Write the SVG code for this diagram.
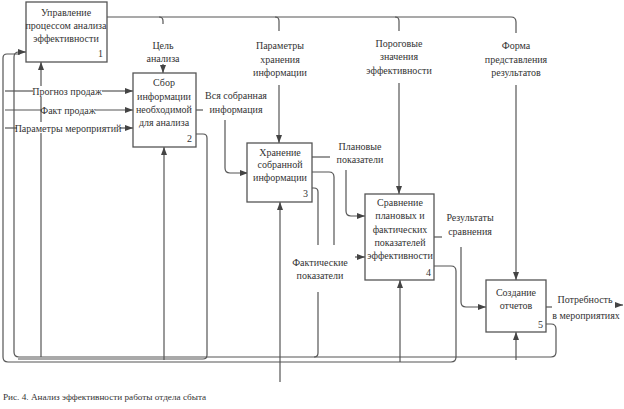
<svg xmlns="http://www.w3.org/2000/svg" width="624" height="409" viewBox="0 0 624 409">
<style>
text{font-family:"Liberation Serif","Times New Roman",serif;font-size:10px;fill:#333;text-anchor:middle}
.num{text-anchor:start}
.cap{text-anchor:start;font-size:9.2px}
.box{fill:#fff;stroke:#555;stroke-width:1.3}
.c{fill:none;stroke:#555;stroke-width:1.2}
.a{marker-end:url(#ah)}
</style>
<defs>
<marker id="ah" viewBox="0 0 8 8" refX="8" refY="4" markerWidth="8" markerHeight="8" markerUnits="userSpaceOnUse" orient="auto">
<path d="M0,1 L8,4 L0,7 Z" fill="#444"/>
</marker>
</defs>
<g id="connectors">
<path class="c" d="M107,17 H511 Q516,17 516,22 V33"/>
<path class="c" d="M159,17 Q163,17 163,21 V24"/>
<path class="c" d="M275,17 Q279,17 279,21 V31"/>
<path class="c" d="M395,17 Q399,17 399,21 V31"/>
<path class="c a" d="M163,64 V73"/>
<path class="c a" d="M279,85 V143"/>
<path class="c a" d="M399,83 V194"/>
<path class="c a" d="M516,85 V280"/>
<path class="c" d="M5,91 H33"/>
<path class="c a" d="M102,91 H133"/>
<path class="c" d="M5,110 H42"/>
<path class="c a" d="M95,110 H133"/>
<path class="c" d="M5,128 H17"/>
<path class="c a" d="M120,128 H133"/>
<path class="c" d="M196,110 H203"/>
<path class="c a" d="M225,120 V168 Q225,173 230,173 H248"/>
<path class="c" d="M312,157 H330"/>
<path class="c a" d="M346,170 V211 Q346,216 351,216 H365"/>
<path class="c" d="M312,172 H329 Q334,172 334,177 V245"/>
<path class="c" d="M312,188 H314 Q318,188 318,192 V245"/>
<path class="c a" d="M355,257 H365"/>
<path class="c" d="M318,292 V353 Q318,357 314,357"/>
<path class="c" d="M434,237 H442"/>
<path class="c a" d="M461,247 V302 Q461,307 466,307 H486"/>
<path class="c" d="M546,307 H552"/>
<path class="c a" d="M615,305 H623"/>
<path class="c" d="M546,324 H551 Q556,324 556,329 V352 Q556,357 551,357 H19 Q14,357 14,352 V57 Q14,52 19,52 H20"/>
<path class="c" d="M434,266 H451 Q456,266 456,271 V357 Q456,362 451,362 H8 Q3,362 3,357 V58 Q3,54 7,54 H20"/>
<path class="c a" d="M18,52 H26"/>
<path class="c" d="M196,134 H203 Q207,134 207,138 V355 Q207,359 203,359 H18"/>
<path class="c a" d="M41,86 V62"/>
<path class="c" d="M41,97 V122"/>
<path class="c" d="M41,133 V357"/>
<path class="c a" d="M164,360 V147"/>
<path class="c a" d="M280,382 V202"/>
<path class="c a" d="M400,362 V280"/>
<path class="c a" d="M516,360 V332"/>
</g>
<g id="node1">
<rect class="box" x="26" y="2" width="81" height="60"/>
<text x="66" y="15.5">Управление</text>
<text x="66" y="28.5">процессом анализа</text>
<text x="66" y="41.5">эффективности</text>
<text class="num" x="98" y="57">1</text>
</g>
<g id="node2">
<rect class="box" x="133" y="73" width="63" height="74"/>
<text x="164" y="86">Сбор</text>
<text x="164" y="99.5">информации</text>
<text x="164" y="112.5">необходимой</text>
<text x="164" y="125.5">для анализа</text>
<text class="num" x="187" y="142">2</text>
</g>
<g id="node3">
<rect class="box" x="247" y="143" width="65" height="59"/>
<text x="280" y="155.5">Хранение</text>
<text x="280" y="168">собранной</text>
<text x="280" y="180.5">информации</text>
<text class="num" x="303" y="197">3</text>
</g>
<g id="node4">
<rect class="box" x="365" y="194" width="69" height="86"/>
<text x="400" y="205.5">Сравнение</text>
<text x="400" y="219">плановых и</text>
<text x="400" y="232.5">фактических</text>
<text x="400" y="245.5">показателей</text>
<text x="400" y="259">эффективности</text>
<text class="num" x="426" y="276">4</text>
</g>
<g id="node5">
<rect class="box" x="486" y="280" width="60" height="52"/>
<text x="516" y="295.5">Создание</text>
<text x="516" y="308.5">отчетов</text>
<text class="num" x="538" y="328">5</text>
</g>
<g id="labels">
<text x="163" y="48.5">Цель</text>
<text x="163" y="61.5">анализа</text>
<text x="280" y="48.5">Параметры</text>
<text x="280" y="62.5">хранения</text>
<text x="280" y="75.5">информации</text>
<text x="399" y="46.5">Пороговые</text>
<text x="399" y="59.5">значения</text>
<text x="399" y="73.5">эффективности</text>
<text x="516" y="48.5">Форма</text>
<text x="516" y="62.5">представления</text>
<text x="516" y="75.5">результатов</text>
<text x="67" y="94.5">Прогноз продаж</text>
<text x="68" y="113.5">Факт продаж</text>
<text x="68" y="131.5">Параметры мероприятий</text>
<text x="236" y="98.5">Вся собранная</text>
<text x="236" y="112.5">информация</text>
<text x="360" y="149.5">Плановые</text>
<text x="360" y="162.5">показатели</text>
<text x="320" y="265.5">Фактические</text>
<text x="320" y="278.5">показатели</text>
<text x="470" y="220.5">Результаты</text>
<text x="470" y="234.5">сравнения</text>
<text x="585" y="302.5">Потребность</text>
<text x="586" y="318.5">в мероприятиях</text>
<text class="cap" x="3" y="400">Рис. 4. Анализ эффективности работы отдела сбыта</text>
</g>
</svg>
